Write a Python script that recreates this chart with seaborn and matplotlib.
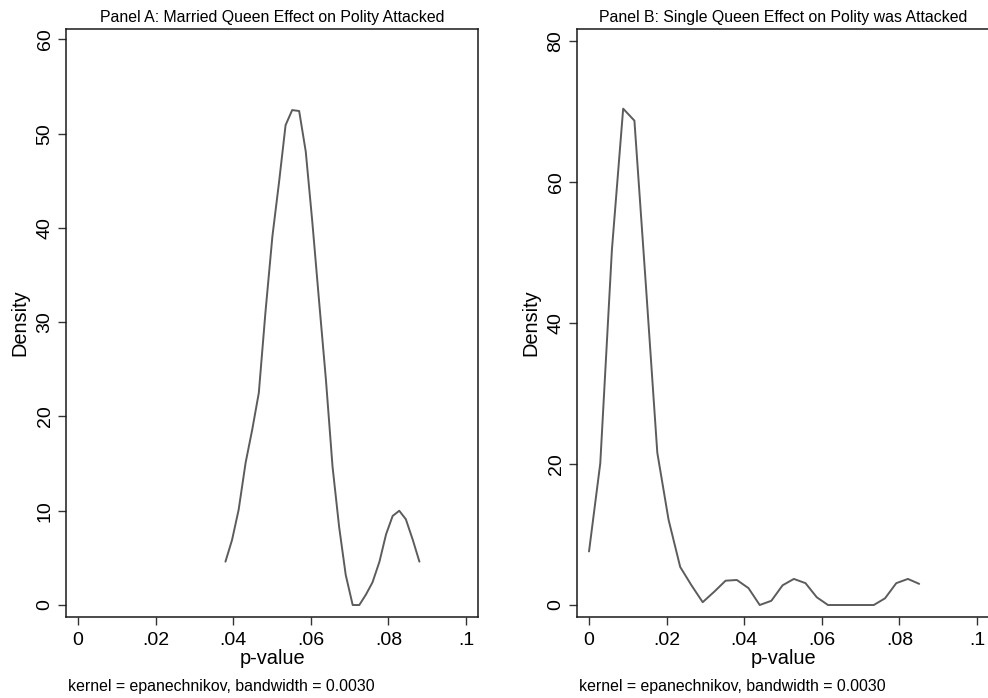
import matplotlib
matplotlib.use("Agg")
import matplotlib.pyplot as plt
import seaborn as sns
import pandas as pd

sns.set_theme(style="ticks")
plt.rcParams['font.family'] = ['Liberation Sans', 'DejaVu Sans']
plt.rcParams['text.color'] = 'black'
plt.rcParams['axes.labelcolor'] = 'black'
plt.rcParams['xtick.color'] = 'black'
plt.rcParams['ytick.color'] = 'black'

# ---- data ----
titles = ["Panel A: Married Queen Effect on Polity Attacked",
          "Panel B: Single Queen Effect on Polity was Attacked"]
note = "kernel = epanechnikov, bandwidth = 0.0030"
x_ticks = [0, 0.02, 0.04, 0.06, 0.08, 0.1]
x_tick_labels = ["0", ".02", ".04", ".06", ".08", ".1"]
yticks_a = [0, 10, 20, 30, 40, 50, 60]
yticks_b = [0, 20, 40, 60, 80]

pval_a = [0.0380, 0.0397, 0.0414, 0.0432, 0.0449, 0.0466, 0.0483, 0.0501, 0.0518, 0.0535,
          0.0552, 0.0570, 0.0587, 0.0604, 0.0621, 0.0639, 0.0656, 0.0673, 0.0690, 0.0708,
          0.0725, 0.0742, 0.0759, 0.0777, 0.0794, 0.0811, 0.0828, 0.0845, 0.0863, 0.0880]
dens_a = [4.6, 6.9, 10.1, 15.1, 18.6, 22.5, 31.0, 39.1, 44.8, 50.9,
          52.5, 52.4, 48.1, 40.6, 32.4, 23.9, 14.7, 8.3, 3.2, 0.0,
          0.0, 1.1, 2.4, 4.6, 7.5, 9.45, 10.0, 9.1, 6.9, 4.6]

pval_b = [0.0000, 0.0029, 0.0059, 0.0088, 0.0117, 0.0147, 0.0176, 0.0205, 0.0235, 0.0264,
          0.0293, 0.0323, 0.0352, 0.0381, 0.0411, 0.0440, 0.0470, 0.0499, 0.0528, 0.0558,
          0.0587, 0.0616, 0.0646, 0.0675, 0.0704, 0.0734, 0.0763, 0.0792, 0.0822, 0.0851]
dens_b = [7.6, 20.1, 50.4, 70.4, 68.7, 45.0, 21.6, 12.1, 5.4, 2.8,
          0.4, 1.9, 3.45, 3.55, 2.4, 0.0, 0.6, 2.8, 3.7, 3.1,
          1.1, 0.0, 0.0, 0.0, 0.0, 0.0, 0.95, 3.1, 3.7, 3.0]

fig = plt.figure(figsize=(9.88, 6.98), dpi=100)
W, H = 988, 698

def px_axes(left, top, right, bottom):
    return fig.add_axes([left / W, 1 - bottom / H, (right - left) / W, (bottom - top) / H])

ax_a = px_axes(66, 29, 478, 617)
ax_b = px_axes(577, 29, 989, 617)

panels = [
    (ax_a, pval_a, dens_a, titles[0], yticks_a, (-1.27, 61.1)),
    (ax_b, pval_b, dens_b, titles[1], yticks_b, (-1.7, 81.7)),
]

line_color = "#5c5c5c"
for ax, xs, ys, title, yt, ylim in panels:
    df = pd.DataFrame({"p-value": xs, "Density": ys})
    sns.lineplot(data=df, x="p-value", y="Density", ax=ax, color=line_color,
                 linewidth=1.4, estimator=None, sort=False)
    ax.set_xlim(-0.0031, 0.1031)
    ax.set_ylim(*ylim)
    ax.set_xticks(x_ticks)
    ax.set_xticklabels(x_tick_labels, fontsize=14)
    ax.set_yticks(yt)
    ax.set_yticklabels([str(v) for v in yt], fontsize=14, rotation=90, va="center")
    ax.tick_params(axis="x", direction="out", length=6, width=1.0, color="#333333", pad=5)
    ax.tick_params(axis="y", direction="out", length=6, width=1.0, color="#333333", pad=3)
    for s in ax.spines.values():
        s.set_visible(True)
        s.set_color("#1a1a1a")
        s.set_linewidth(1.1)
    ax.set_xlabel("p-value", fontsize=14.4, labelpad=0)
    ax.set_ylabel("Density", fontsize=14.4, labelpad=5)
    ax.set_title(title, fontsize=11.4, pad=5)
    ax.text(0.006, -0.118, note, transform=ax.transAxes, fontsize=11.4,
            ha="left", va="center")

fig.savefig("out.png", dpi=100, facecolor="white")
